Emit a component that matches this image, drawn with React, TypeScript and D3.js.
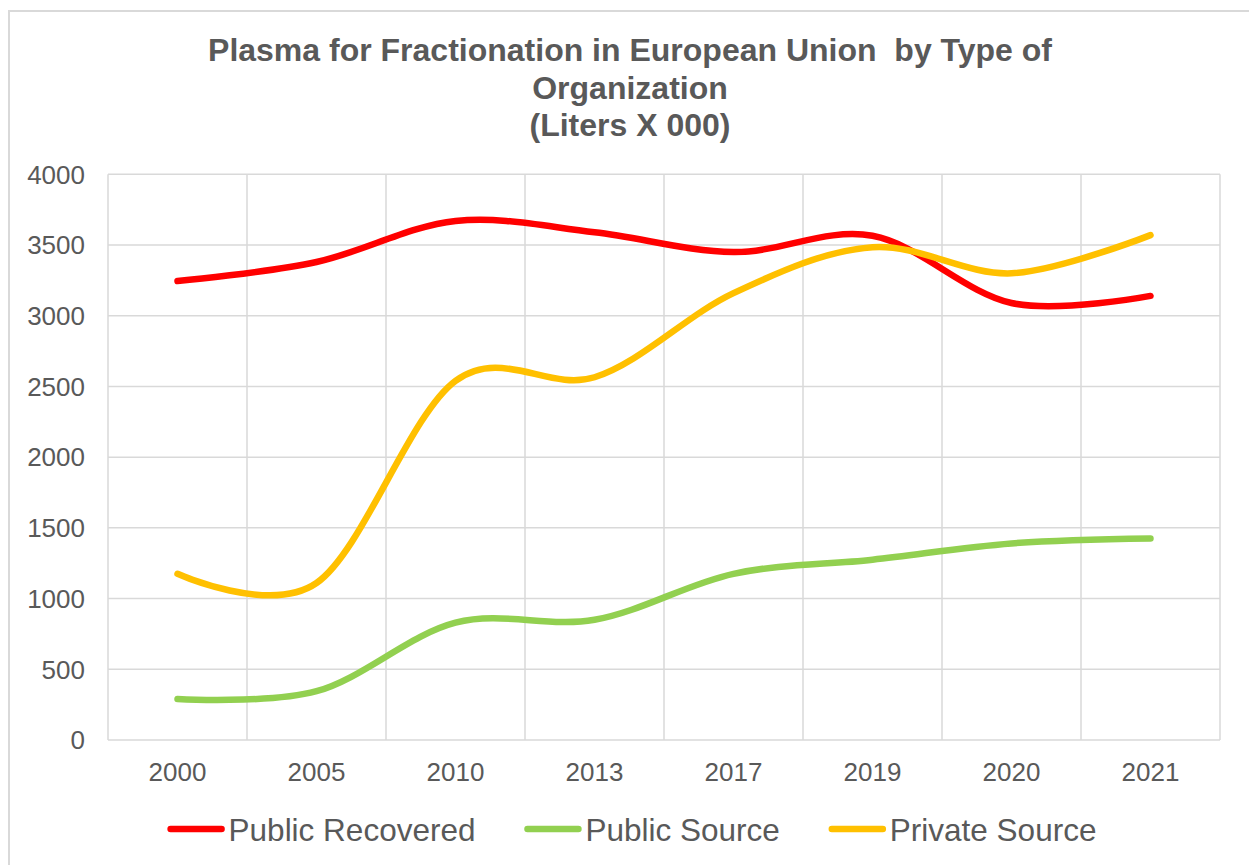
import React from 'react';
import * as d3 from 'd3';

const categories = ['2000', '2005', '2010', '2013', '2017', '2019', '2020', '2021'];
const publicRecovered = [3245, 3380, 3670, 3590, 3450, 3565, 3090, 3140];
const publicSource = [290, 345, 830, 850, 1175, 1275, 1390, 1425];
const privateSource = [1175, 1110, 2540, 2565, 3160, 3485, 3300, 3570];
const yTicks = [0, 500, 1000, 1500, 2000, 2500, 3000, 3500, 4000];
const titleLines = ['Plasma for Fractionation in European Union  by Type of', 'Organization', '(Liters X 000)'];

const series = [
  { name: 'Public Recovered', values: publicRecovered, color: '#FF0000' },
  { name: 'Public Source', values: publicSource, color: '#92D050' },
  { name: 'Private Source', values: privateSource, color: '#FFC000' },
];

const FONT = '"Liberation Sans", Arial, sans-serif';
const TEXT = '#595959';
const GRID = '#D9D9D9';

function measure(text: string, font: string) {
  const ctx = document.createElement('canvas').getContext('2d');
  if (!ctx) return text.length * 15;
  ctx.font = font;
  return ctx.measureText(text).width;
}

export default function App() {
  const width = 1249, height = 865;
  const plot = { left: 108, right: 1220, top: 174.3, bottom: 740 };

  const x = d3.scaleBand<string>().domain(categories).range([plot.left, plot.right]).padding(0);
  const y = d3.scaleLinear().domain([0, 4000]).range([plot.bottom, plot.top]);

  const line = d3.line<number>()
    .x((d, i) => (x(categories[i]) as number) + x.bandwidth() / 2)
    .y(d => y(d))
    .curve(d3.curveCardinal.tension(0));

  // legend layout, centred under the plot
  const legendFont = `31.5px ${FONT}`;
  const swatch = 57, swGap = 4, itemGap = 49;
  const widths = series.map(s => measure(s.name, legendFont));
  const total = widths.reduce((a, w) => a + swatch + swGap + w, 0) + itemGap * (series.length - 1);
  let cursor = 632 - total / 2;
  const legendItems = series.map((s, i) => {
    const item = { ...s, x: cursor };
    cursor += swatch + swGap + widths[i] + itemGap;
    return item;
  });

  const bounds = x.domain().map(c => x(c) as number).concat([plot.right]);

  return (
    <svg width={width} height={height} style={{ position: 'absolute', left: 0, top: 0 }}>
      <rect x={0} y={0} width={width} height={height} fill="#fff" />
      <rect x={9} y={11} width={width + 20} height={height + 20} fill="none" stroke={GRID} strokeWidth={2} />

      <g fontFamily={FONT} fontWeight="bold" fontSize={32} fill={TEXT} textAnchor="middle">
        {titleLines.map((t, i) => (
          <text key={i} x={630} y={61 + i * 37.5} style={{ whiteSpace: 'pre' }}>{t}</text>
        ))}
      </g>

      <g stroke={GRID} strokeWidth={1.5}>
        {yTicks.map(t => (
          <line key={'h' + t} x1={plot.left} x2={plot.right} y1={y(t)} y2={y(t)} />
        ))}
        {bounds.map((b, i) => (
          <line key={'v' + i} x1={b} x2={b} y1={plot.top} y2={plot.bottom} />
        ))}
      </g>

      <g fontFamily={FONT} fontSize={26} fill={TEXT}>
        {yTicks.map(t => (
          <text key={t} x={85} y={y(t) + 9.3} textAnchor="end">{t}</text>
        ))}
        {categories.map(c => (
          <text key={c} x={(x(c) as number) + x.bandwidth() / 2} y={781} textAnchor="middle">{c}</text>
        ))}
      </g>

      <g fill="none" strokeWidth={6.5} strokeLinecap="round" strokeLinejoin="round">
        {series.map(s => (
          <path key={s.name} d={line(s.values) || ''} stroke={s.color} />
        ))}
      </g>

      <g fontFamily={FONT} fontSize={31.5} fill={TEXT}>
        {legendItems.map(s => (
          <g key={s.name}>
            <line x1={s.x + 3} x2={s.x + swatch - 3} y1={829} y2={829} stroke={s.color} strokeWidth={6.5} strokeLinecap="round" />
            <text x={s.x + swatch + swGap} y={840.5}>{s.name}</text>
          </g>
        ))}
      </g>
    </svg>
  );
}
